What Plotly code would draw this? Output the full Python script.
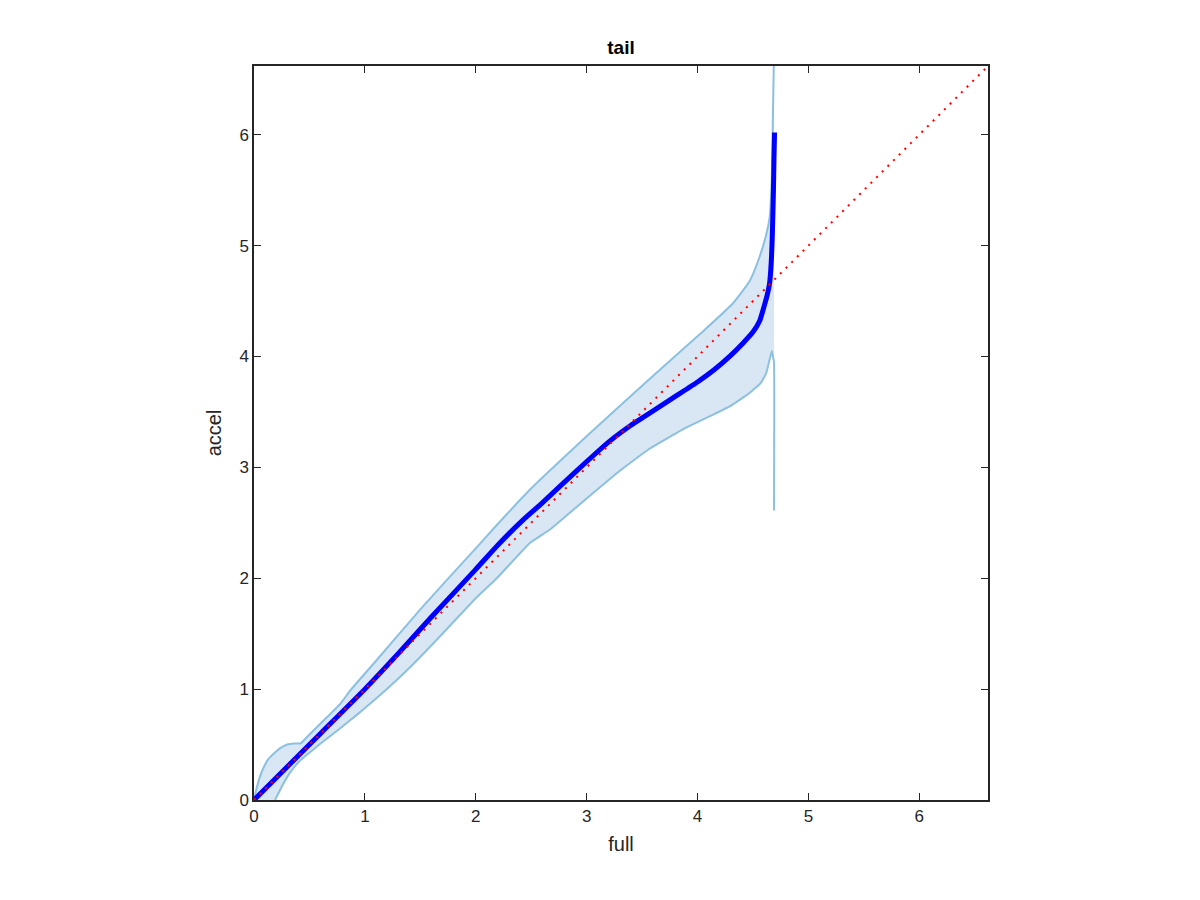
import plotly.graph_objects as go

# Upper envelope of the band
upper_x = [0.0, 0.02, 0.05, 0.09, 0.13, 0.18, 0.24, 0.30, 0.36, 0.42, 0.48, 0.60, 0.78, 0.87, 1.07,
           1.5, 2.0, 2.19, 2.49, 3.0, 3.57, 4.02, 4.32, 4.47, 4.56, 4.62, 4.65, 4.67, 4.68, 4.69]
upper_y = [0.0, 0.09, 0.20, 0.30, 0.37, 0.42, 0.47, 0.50, 0.51, 0.51, 0.57, 0.69, 0.87, 0.99, 1.22,
           1.72, 2.27, 2.48, 2.80, 3.28, 3.80, 4.20, 4.48, 4.68, 4.90, 5.10, 5.25, 5.60, 6.15, 6.75]

# Lower envelope of the band (last point is the tail spike)
lower_x = [0.19, 0.25, 0.32, 0.40, 0.48, 0.60, 0.77, 0.93, 1.13, 1.41, 1.7, 2.0, 2.19, 2.49, 2.67, 3.0,
           3.3, 3.57, 3.9, 4.17, 4.29, 4.47, 4.57, 4.62, 4.67, 4.68, 4.69, 4.69]
lower_y = [0.0, 0.12, 0.24, 0.34, 0.41, 0.51, 0.64, 0.77, 0.94, 1.20, 1.50, 1.82, 2.00, 2.32, 2.44, 2.72,
           2.97, 3.17, 3.36, 3.49, 3.55, 3.67, 3.76, 3.85, 4.05, 4.00, 3.95, 2.61]

# Median quantile curve
med_x = [0.0, 0.3, 0.6, 1.0, 1.3, 1.6, 2.0, 2.2, 2.42, 2.6, 2.9, 3.2, 3.4, 3.6, 3.8, 4.0, 4.15, 4.3,
         4.41, 4.5, 4.56, 4.60, 4.63, 4.65, 4.665, 4.675, 4.685, 4.69, 4.695]
med_y = [0.0, 0.3, 0.6, 1.0, 1.32, 1.65, 2.08, 2.30, 2.52, 2.68, 2.96, 3.23, 3.38, 3.51, 3.64, 3.77, 3.88,
         4.01, 4.12, 4.22, 4.32, 4.45, 4.56, 4.66, 4.85, 5.10, 5.50, 5.80, 6.02]

# Identity reference line
diag = [0.0, 6.62]

AX_MAX = 6.62
TICKS = [0, 1, 2, 3, 4, 5, 6]

band_line = "rgb(140,192,224)"
band_fill = "rgb(216,231,243)"
FONT = "Liberation Sans, Arial, sans-serif"

# fill polygon: upper curve, then lower curve reversed (without spike)
poly_x = upper_x + lower_x[:-1][::-1] + [0.0]
poly_y = upper_y + lower_y[:-1][::-1] + [0.0]

fig = go.Figure()
fig.add_trace(go.Scatter(x=poly_x, y=poly_y, fill="toself", fillcolor=band_fill,
                         line=dict(width=0), mode="lines", showlegend=False, hoverinfo="skip"))
fig.add_trace(go.Scatter(x=upper_x, y=upper_y, mode="lines",
                         line=dict(color=band_line, width=2, shape="spline", smoothing=0.5),
                         showlegend=False))
fig.add_trace(go.Scatter(x=lower_x, y=lower_y, mode="lines",
                         line=dict(color=band_line, width=2, shape="spline", smoothing=0.3),
                         showlegend=False))
fig.add_trace(go.Scatter(x=med_x, y=med_y, mode="lines",
                         line=dict(color="#0000FF", width=5, shape="spline", smoothing=0.5),
                         showlegend=False))
fig.add_trace(go.Scatter(x=diag, y=diag, mode="lines",
                         line=dict(color="#FF0000", width=2, dash="2px,6px"), showlegend=False))

axis_common = dict(
    range=[0, AX_MAX], tickvals=TICKS, ticktext=[str(t) for t in TICKS],
    showgrid=False, zeroline=False, showline=True, linecolor="#262626", linewidth=1.5,
    mirror="ticks", ticks="inside", ticklen=7, tickcolor="#262626", tickwidth=1.2,
    tickfont=dict(family=FONT, size=17, color="#262626"),
)

fig.update_layout(
    width=1200, height=900,
    paper_bgcolor="white", plot_bgcolor="white",
    margin=dict(l=246, r=220, t=58, b=108),
    title=dict(text="<b>tail</b>", x=(621 - 8) / 1200, xanchor="center", y=1 - 39 / 900,
               yanchor="middle", yref="container",
               font=dict(family=FONT, size=19, color="black")),
    xaxis=dict(**axis_common, title=dict(text="full", standoff=12,
               font=dict(family=FONT, size=20, color="#262626"))),
    yaxis=dict(**axis_common, title=dict(text="accel", standoff=12,
               font=dict(family=FONT, size=20, color="#262626"))),
    showlegend=False,
)

fig.write_html("out.html")
